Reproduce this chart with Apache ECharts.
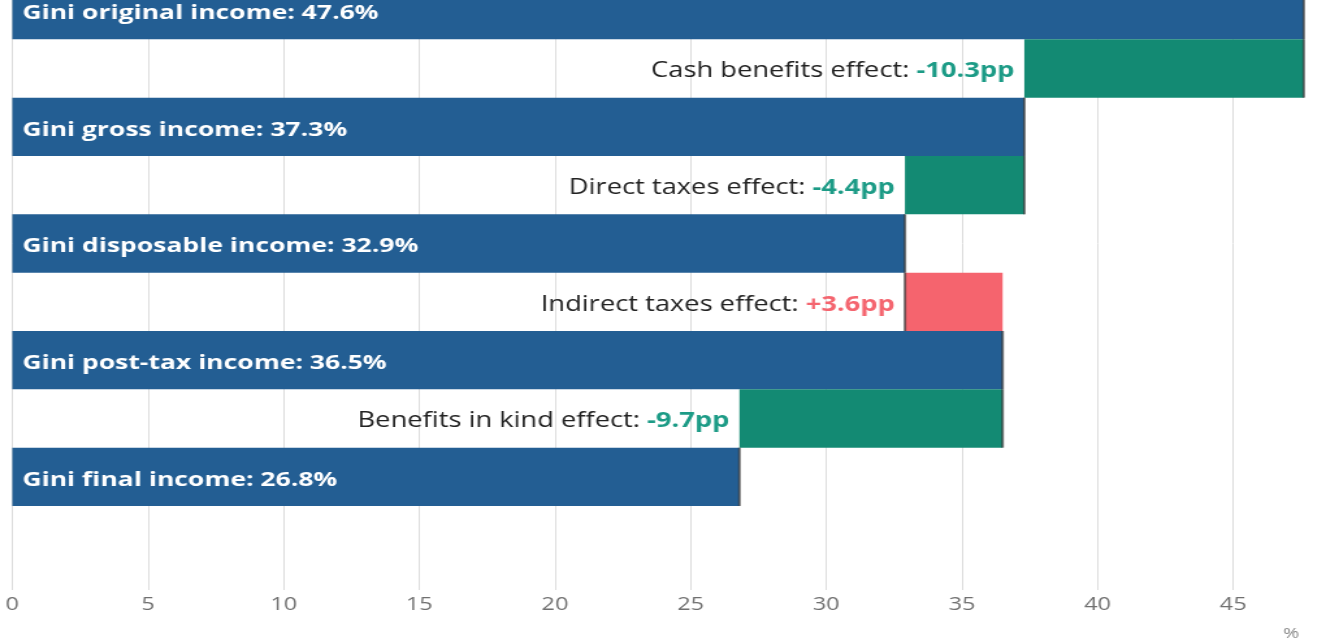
<!DOCTYPE html>
<html>
<head>
<meta charset="utf-8">
<script src="https://cdn.jsdelivr.net/npm/echarts@6/dist/echarts.min.js"></script>
<style>
  html, body { margin: 0; padding: 0; background: #fff; width: 1325px; height: 639px; overflow: hidden; position: relative; }
  /* the reference is horizontally stretched, so the chart is drawn narrower and scaled in x */
  #chart { position: absolute; left: 0; top: -19px; width: 1056px; height: 658px; transform: scaleX(1.3); transform-origin: 0 0; }
</style>
</head>
<body>
<div id="chart"></div>
<script>
// income stages and their Gini coefficient (%)
const stageNames = ["original income", "gross income", "disposable income", "post-tax income", "final income"];
const giniValues = [47.6, 37.3, 32.9, 36.5, 26.8];
// effect of each step between two stages (percentage points)
const effectNames = ["Cash benefits effect", "Direct taxes effect", "Indirect taxes effect", "Benefits in kind effect"];
const effectValues = [-10.3, -4.4, 3.6, -9.7];
const xTicks = [0, 5, 10, 15, 20, 25, 30, 35, 40, 45];

const BLUE = "#235e93", GREEN = "#138a73", RED = "#f5646e";
const GREEN_TXT = "#1c9b86", RED_TXT = "#f4656f";

// build the waterfall rows: gini, effect, gini, effect ...
let categories = [],
  baseData = [],
  barData = [],
  edgeData = [];
for (let i = 0; i < giniValues.length; i++) {
  let row = categories.length;
  categories.push("Gini " + stageNames[i]);
  baseData.push(0);
  barData.push({
    value: giniValues[i],
    itemStyle: { color: BLUE },
    label: {
      show: true,
      position: "insideLeft",
      distance: 7.7,
      offset: [0, 3],
      color: "#fff",
      fontWeight: "bold",
      fontSize: 20.4,
      formatter: "Gini " + stageNames[i] + ": " + giniValues[i].toFixed(1) + "%"
    }
  });
  edgeData.push([giniValues[i], row]);
  if (i < effectValues.length) {
    let e = effectValues[i],
      prev = giniValues[i],
      next = giniValues[i + 1],
      neg = e < 0,
      txt = (neg ? "-" : "+") + Math.abs(e).toFixed(1) + "pp";
    row = categories.length;
    categories.push(effectNames[i]);
    baseData.push(Math.min(prev, next));
    barData.push({
      value: Math.abs(e),
      itemStyle: { color: neg ? GREEN : RED },
      label: {
        show: true,
        position: "left",
        distance: 7.7,
        offset: [0, 3],
        formatter: "{t|" + effectNames[i] + ": }{" + (neg ? "g" : "r") + "|" + txt + "}"
      }
    });
    edgeData.push([prev, row]);
  }
}

let myChart = echarts.init(document.getElementById("chart"));
let option = {
  animation: false,
  textStyle: { fontFamily: "Open Sans" },
  grid: { left: 9.46, right: 0, top: 0, bottom: 133, containLabel: false },
  xAxis: {
    type: "value",
    min: 0,
    max: 50,
    interval: 5,
    offset: 84,
    axisLine: { show: false },
    axisTick: { show: true, inside: true, length: 84, lineStyle: { color: "#dcdcdc", width: 1 } },
    splitLine: { show: true, lineStyle: { color: "#dcdcdc", width: 1 } },
    axisLabel: {
      margin: 6,
      fontSize: 18,
      color: "#707070",
      formatter: function (v) {
        return xTicks.indexOf(v) >= 0 ? String(v) : "";
      }
    }
  },
  yAxis: {
    type: "category",
    inverse: true,
    data: categories,
    show: false
  },
  series: [
    {
      type: "bar",
      stack: "w",
      data: baseData,
      barWidth: "100%",
      barCategoryGap: 0,
      itemStyle: { color: "transparent" },
      silent: true
    },
    {
      type: "bar",
      stack: "w",
      data: barData,
      barWidth: "100%",
      barCategoryGap: 0,
      label: {
        rich: {
          t: { color: "#222", fontSize: 21, fontFamily: "Open Sans" },
          g: { color: GREEN_TXT, fontSize: 21, fontWeight: "bold", fontFamily: "Open Sans" },
          r: { color: RED_TXT, fontSize: 21, fontWeight: "bold", fontFamily: "Open Sans" }
        }
      }
    },
    {
      type: "scatter",
      data: edgeData,
      symbol: "rect",
      symbolSize: [2, 58.3],
      itemStyle: { color: "rgba(55,55,55,0.85)" },
      z: 5,
      silent: true
    }
  ],
  graphic: [
    {
      type: "text",
      left: 987,
      top: 645,
      style: { text: "%", fontSize: 15, fill: "#888", fontFamily: "Open Sans" }
    }
  ]
};
myChart.setOption(option);
window.addEventListener("resize", function () {
  myChart.resize();
});
</script>
</body>
</html>
